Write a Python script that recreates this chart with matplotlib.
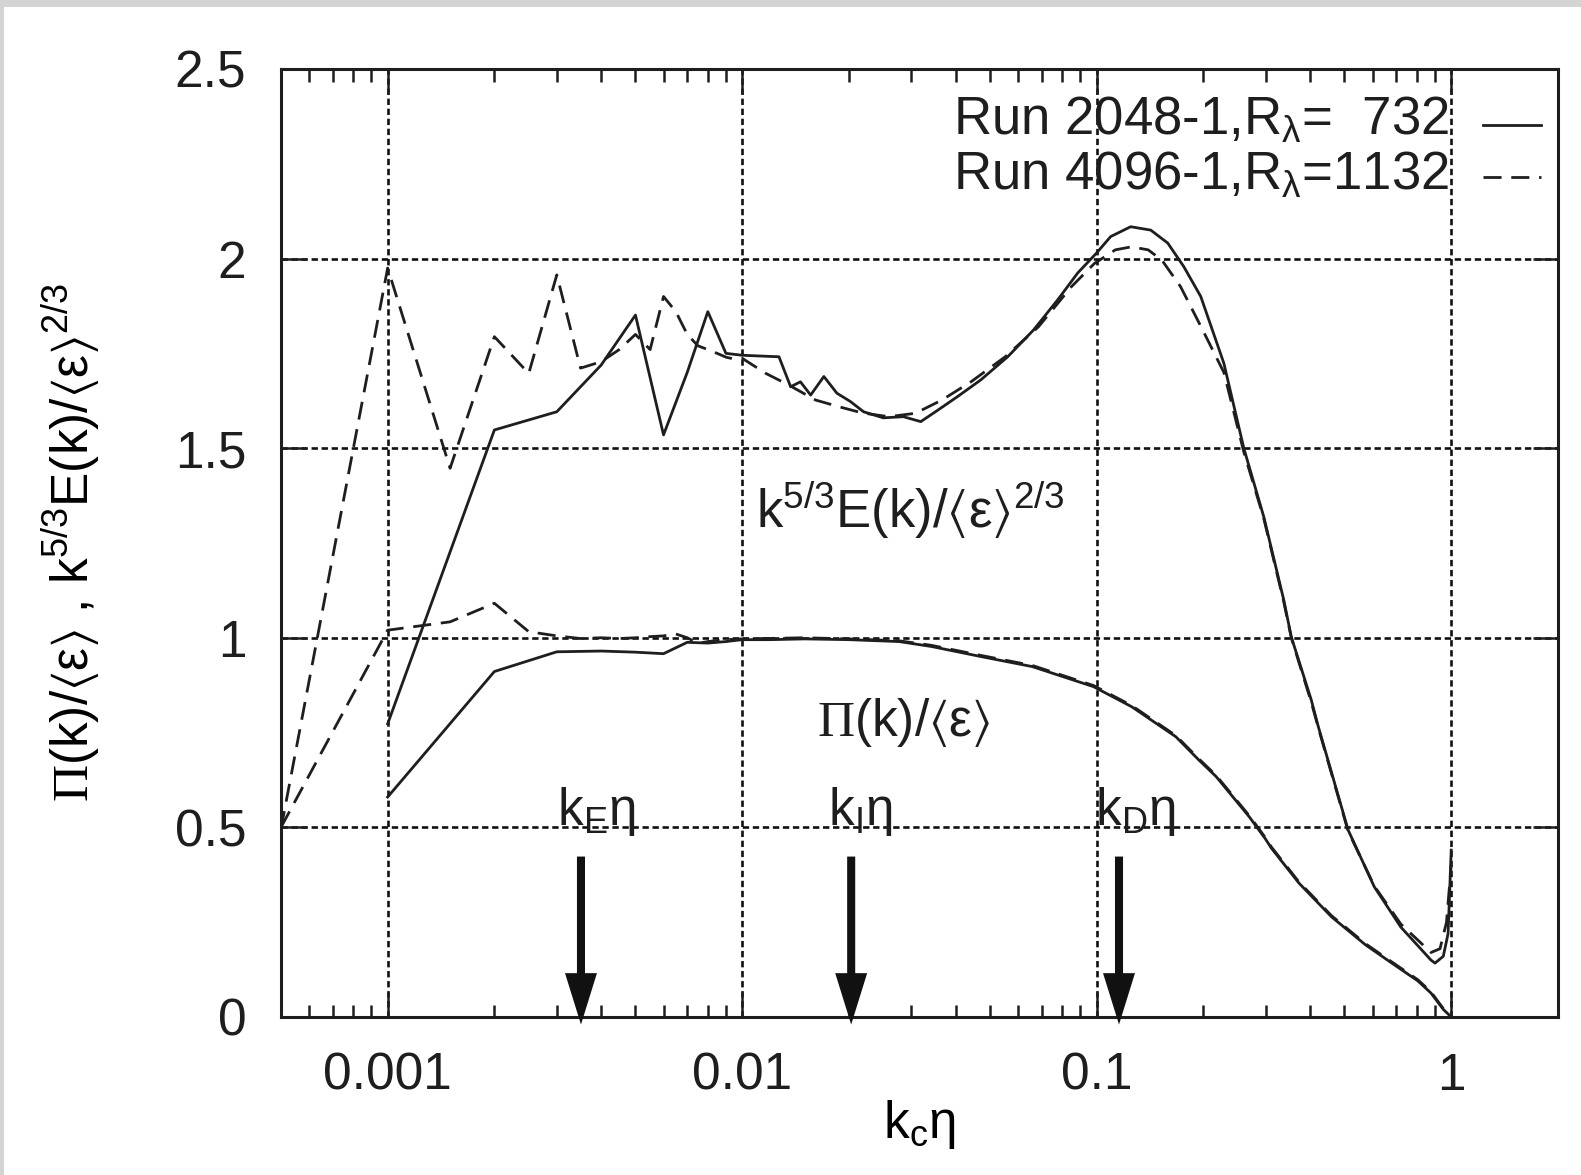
import matplotlib
matplotlib.use("Agg")
import matplotlib.pyplot as plt
from matplotlib.lines import Line2D
from matplotlib.patches import Rectangle

# ---------------- data ----------------
# Run 2048-1 (solid): compensated spectrum k^{5/3}E(k)/<eps>^{2/3}
e2048_k = [0.001, 0.002, 0.003, 0.004, 0.005, 0.006, 0.007, 0.008, 0.009, 0.010,
           0.0127, 0.0137, 0.0146, 0.0156, 0.0170, 0.0185, 0.0202, 0.0220, 0.0250,
           0.0285, 0.0319, 0.0356, 0.0405, 0.0471, 0.0561, 0.0664, 0.0776, 0.0884,
           0.100, 0.1095, 0.1247, 0.1421, 0.1586, 0.1760, 0.1966, 0.2284, 0.260,
           0.296, 0.337, 0.354, 0.403, 0.422, 0.512, 0.607, 0.721, 0.877, 0.90,
           0.95, 0.98, 1.0]
e2048_v = [0.773, 1.548, 1.596, 1.719, 1.851, 1.535, 1.70, 1.86, 1.75, 1.745,
           1.741, 1.662, 1.675, 1.640, 1.689, 1.645, 1.623, 1.596, 1.580,
           1.583, 1.570, 1.600, 1.636, 1.680, 1.741, 1.812, 1.891, 1.962,
           2.015, 2.058, 2.084, 2.075, 2.041, 1.979, 1.900, 1.724, 1.500,
           1.319, 1.100, 1.002, 0.836, 0.765, 0.493, 0.343, 0.237, 0.150, 0.142,
           0.160, 0.220, 0.440]

# Run 4096-1 (dashed): compensated spectrum
e4096_k = [0.0005, 0.001, 0.0015, 0.002, 0.0025, 0.003, 0.0035, 0.004, 0.0045,
           0.005, 0.0055, 0.006, 0.0065, 0.007, 0.0075, 0.008, 0.0085, 0.009,
           0.0095, 0.010, 0.01167, 0.0135, 0.0161, 0.0188, 0.0218, 0.0259,
           0.0308, 0.0366, 0.0442, 0.0552, 0.0685, 0.0849, 0.0985, 0.1129,
           0.1253, 0.1397, 0.1527, 0.1724, 0.1970, 0.2284, 0.260, 0.296, 0.337,
           0.354, 0.403, 0.422, 0.512, 0.607, 0.721, 0.877, 0.93, 0.97, 1.0]
e4096_v = [0.496, 1.975, 1.447, 1.794, 1.697, 1.957, 1.711, 1.728, 1.76,
           1.80, 1.76, 1.90, 1.86, 1.80, 1.77, 1.76, 1.75, 1.74,
           1.735, 1.737, 1.697, 1.667, 1.627, 1.609, 1.593, 1.583,
           1.592, 1.627, 1.675, 1.741, 1.820, 1.926, 1.987, 2.023,
           2.031, 2.023, 1.996, 1.926, 1.820, 1.700, 1.490, 1.315, 1.095,
           1.000, 0.830, 0.762, 0.490, 0.345, 0.245, 0.170, 0.180, 0.250, 0.400]

# Run 2048-1 (solid): normalised energy flux Pi(k)/<eps>
p2048_k = [0.001, 0.002, 0.003, 0.004, 0.005, 0.006, 0.007, 0.008, 0.009, 0.010,
           0.012, 0.015, 0.020, 0.0277, 0.0342, 0.0474, 0.0658, 0.098, 0.1256,
           0.1672, 0.194, 0.2172, 0.2693, 0.299, 0.3111, 0.372, 0.4597, 0.5735,
           0.6801, 0.8055, 0.877, 0.95, 1.0]
p2048_v = [0.580, 0.911, 0.963, 0.965, 0.962, 0.958, 0.988, 0.986, 0.990, 0.995,
           0.995, 0.997, 0.995, 0.990, 0.977, 0.950, 0.924, 0.871, 0.818,
           0.739, 0.678, 0.634, 0.528, 0.470, 0.445, 0.353, 0.264, 0.190,
           0.142, 0.095, 0.063, 0.020, 0.0]

# Run 4096-1 (dashed): normalised energy flux
p4096_k = [0.0005, 0.001, 0.0015, 0.002, 0.0025, 0.003, 0.0035, 0.004, 0.0045,
           0.005, 0.0055, 0.006, 0.0065, 0.007, 0.0075, 0.008, 0.009, 0.010,
           0.015, 0.020, 0.0277, 0.0342, 0.0474, 0.0658, 0.098, 0.1256, 0.1672,
           0.194, 0.2172, 0.2693, 0.299, 0.3111, 0.372, 0.4597, 0.5735, 0.6801,
           0.8055, 0.877, 0.95, 1.0]
p4096_v = [0.500, 1.020, 1.042, 1.091, 1.016, 1.005, 0.998, 1.000, 0.998,
           1.000, 1.003, 1.005, 1.010, 1.000, 0.985, 0.990, 0.995, 0.997,
           1.000, 0.997, 0.992, 0.980, 0.953, 0.927, 0.874, 0.821, 0.742,
           0.681, 0.637, 0.531, 0.473, 0.448, 0.356, 0.267, 0.193,
           0.145, 0.098, 0.066, 0.022, 0.002]

# characteristic wavenumbers marked by arrows
mark_k = [0.00351, 0.0203, 0.1156]
mark_labels = [r"k$_\mathrm{E}$η", r"k$_\mathrm{I}$η", r"k$_\mathrm{D}$η"]

legend_labels = [r"Run 2048-1,R$_\lambda$=  732", r"Run 4096-1,R$_\lambda$=1132"]

xticks = [0.001, 0.01, 0.1, 1]
xticklabels = ["0.001", "0.01", "0.1", "1"]
yticks = [0, 0.5, 1, 1.5, 2, 2.5]
yticklabels = ["0", "0.5", "1", "1.5", "2", "2.5"]

# ---------------- style ----------------
plt.rcParams["font.family"] = ["Liberation Sans", "DejaVu Sans"]
plt.rcParams["mathtext.fontset"] = "custom"
plt.rcParams["mathtext.rm"] = "Liberation Sans"
plt.rcParams["mathtext.it"] = "Liberation Sans"
plt.rcParams["mathtext.sf"] = "Liberation Serif"
plt.rcParams["mathtext.bf"] = "Liberation Sans:bold"
plt.rcParams["mathtext.fallback"] = "stix"

INK = "#1e1e1e"
FS = 37
LW = 2.0
DASH = (0, (6.5, 3.5))

fig = plt.figure(figsize=(15.81, 11.75), dpi=100)
fig.patch.set_facecolor("#d4d4d4")
fig.patches.append(Rectangle((4 / 1581, 0), 1, 1 - 7 / 1175, transform=fig.transFigure,
                             facecolor="white", edgecolor="none", zorder=-10))

ax = fig.add_axes([0.1777, 0.1345, 0.8077, 0.8068])
ax.set_facecolor("white")
ax.set_xscale("log")

ax.plot(e2048_k, e2048_v, color=INK, lw=LW, zorder=3)
ax.plot(e4096_k, e4096_v, color=INK, lw=LW, linestyle=DASH, zorder=3)
ax.plot(p2048_k, p2048_v, color=INK, lw=LW, zorder=3)
ax.plot(p4096_k, p4096_v, color=INK, lw=LW, linestyle=DASH, zorder=3)

ax.set_xlim(0.0005, 2.0)
ax.set_ylim(0, 2.5)

ax.set_xticks(xticks)
ax.set_xticklabels(xticklabels)
ax.set_yticks(yticks)
ax.set_yticklabels(yticklabels)
ax.minorticks_on()
ax.yaxis.set_minor_locator(matplotlib.ticker.NullLocator())

ax.tick_params(which="both", direction="in", top=True, right=True, colors=INK,
               labelsize=FS, pad=25)
ax.tick_params(which="major", length=18, width=1.8)
ax.tick_params(which="minor", length=9, width=1.8)
for s in ax.spines.values():
    s.set_linewidth(2.2)
    s.set_color(INK)

ax.grid(True, which="major", color="#111111", linestyle=(0, (2.4, 1.4)), lw=1.9, zorder=1)

# axis titles
ax.set_xlabel(r"k$_\mathrm{c}$η", fontsize=FS)
ax.xaxis.set_label_coords(0.5, -0.085)
ax.set_ylabel(r"$\mathsf{\Pi}$(k)/$\langle\varepsilon\rangle$ , k$^{5/3}$E(k)/$\langle\varepsilon\rangle^{2/3}$",
              fontsize=FS)
ax.yaxis.set_label_coords(-0.14, 0.5)

# curve annotations
ax.text(0.0299, 1.29, r"k$^{5/3}$E(k)/$\langle\varepsilon\rangle^{2/3}$", fontsize=38,
        ha="center", va="baseline", color=INK)
ax.text(0.0286, 0.74, r"$\mathsf{\Pi}$(k)/$\langle\varepsilon\rangle$", fontsize=FS,
        ha="center", va="baseline", color=INK)

# arrows for characteristic wavenumbers
for k, lab in zip(mark_k, mark_labels):
    ax.annotate("", xy=(k, -0.02), xytext=(k, 0.423), annotation_clip=False,
                arrowprops=dict(width=5.8, headwidth=23, headlength=37, shrink=0,
                                facecolor="#111111", edgecolor="none", lw=0),
                zorder=4)
    ax.annotate(lab, xy=(k, 0.505), xytext=(-17, 0), textcoords="offset points",
                fontsize=FS, ha="left", va="baseline", color=INK, zorder=4)

# key
styles = ["-", DASH]
text_y = [0.9304, 0.8724]
line_y = [0.9409, 0.8864]
for lab, st, ty, ly in zip(legend_labels, styles, text_y, line_y):
    ax.text(0.915, ty, lab, transform=ax.transAxes, fontsize=38, ha="right",
            va="baseline", color=INK)
    ax.add_line(Line2D([0.941, 0.987], [ly, ly], transform=ax.transAxes,
                       color=INK, lw=LW, linestyle=st, clip_on=False))

fig.savefig("out.png", dpi=100, facecolor=fig.get_facecolor())
